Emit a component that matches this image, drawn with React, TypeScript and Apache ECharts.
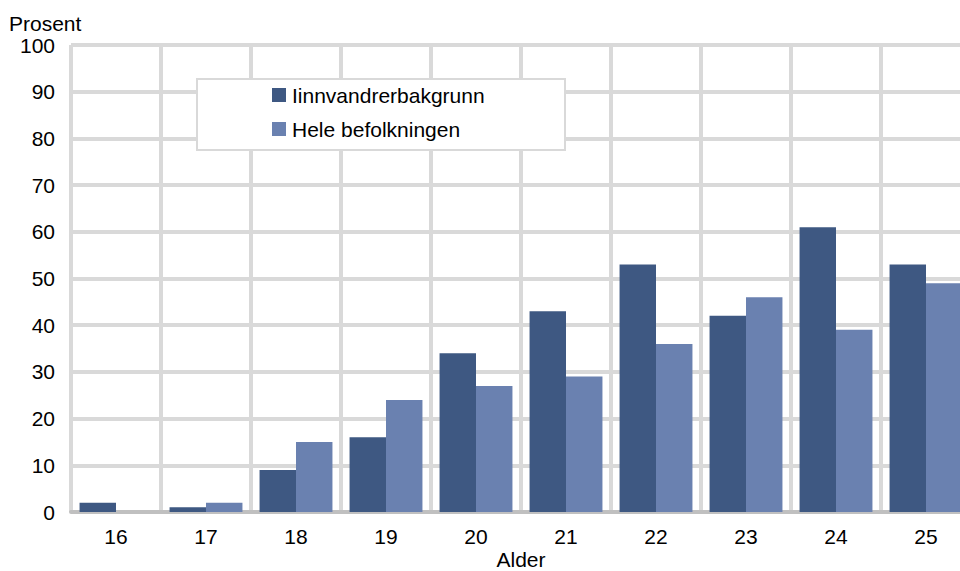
import React, { useEffect, useRef } from "react";
import * as echarts from "echarts";

const categories = ["16", "17", "18", "19", "20", "21", "22", "23", "24", "25"];
const seriesNames = ["Iinnvandrerbakgrunn", "Hele befolkningen"];
const immigrantValues = [2, 1, 9, 16, 34, 43, 53, 42, 61, 53];
const populationValues = [0, 2, 15, 24, 27, 29, 36, 46, 39, 49];
const yAxisName = "Prosent";
const xAxisName = "Alder";

export default function App() {
  const ref = useRef<HTMLDivElement>(null);
  useEffect(() => {
    if (!ref.current) return;
    const chart = echarts.init(ref.current, undefined, { renderer: "svg" });
    const font = "'Liberation Sans', Arial, sans-serif";
    const fs = 21;
    chart.setOption({
      animation: false,
      backgroundColor: "#ffffff",
      textStyle: { fontFamily: font },
      grid: {
        left: 71,
        top: 45,
        width: 900,
        height: 467,
        containLabel: false,
        outerBoundsMode: "none",
      },
      legend: {
        data: seriesNames,
        orient: "vertical",
        left: 272,
        top: 84.5,
        itemWidth: 14,
        itemHeight: 14,
        itemGap: 13,
        padding: 0,
        icon: "rect",
        z: 10,
        textStyle: { fontSize: fs, color: "#000", fontFamily: font, lineHeight: 21, padding: [0, 0, 0, 1] },
      },
      graphic: [
        {
          type: "rect",
          z: 5,
          shape: { x: 197, y: 79, width: 368, height: 71 },
          style: { fill: "#ffffff", stroke: "#d9d9d9", lineWidth: 2 },
        },
        {
          type: "text",
          x: 9,
          y: 23,
          style: {
            text: yAxisName,
            fontSize: fs,
            fill: "#000",
            fontFamily: font,
            textVerticalAlign: "middle",
            verticalAlign: "middle",
          },
        },
        {
          type: "text",
          x: 521,
          y: 559.5,
          style: {
            text: xAxisName,
            fontSize: fs,
            lineHeight: 21,
            fill: "#000",
            fontFamily: font,
            align: "center",
            textAlign: "center",
            textVerticalAlign: "middle",
            verticalAlign: "middle",
          },
        },
      ],
      xAxis: {
        type: "category",
        data: categories,
        boundaryGap: true,
        axisLine: { show: true, lineStyle: { color: "#c0c0c0", width: 4 } },
        axisTick: { show: false },
        axisLabel: { fontSize: fs, color: "#000", margin: 14, fontFamily: font },
        splitLine: { show: true, lineStyle: { color: "#d9d9d9", width: 4 } },
      },
      yAxis: {
        type: "value",
        min: 0,
        max: 100,
        interval: 10,
        axisLine: { show: false },
        axisTick: { show: false },
        axisLabel: { fontSize: fs, color: "#000", margin: 16, fontFamily: font },
        splitLine: { show: true, lineStyle: { color: "#d9d9d9", width: 4 } },
      },
      series: [
        {
          name: seriesNames[0],
          type: "bar",
          data: immigrantValues,
          barGap: "0%",
          barCategoryGap: "19%",
          itemStyle: { color: "#3e5882" },
          z: 3,
        },
        {
          name: seriesNames[1],
          type: "bar",
          data: populationValues,
          barGap: "0%",
          barCategoryGap: "19%",
          itemStyle: { color: "#6a81b0" },
          z: 3,
        },
      ],
    });
    return () => chart.dispose();
  }, []);
  return (
    <div
      style={{ position: "fixed", left: 0, top: 0, width: 960, height: 571, overflow: "hidden", background: "#fff" }}
    >
      <div ref={ref} style={{ position: "absolute", left: 0, top: 0, width: 960, height: 571 }} />
    </div>
  );
}
